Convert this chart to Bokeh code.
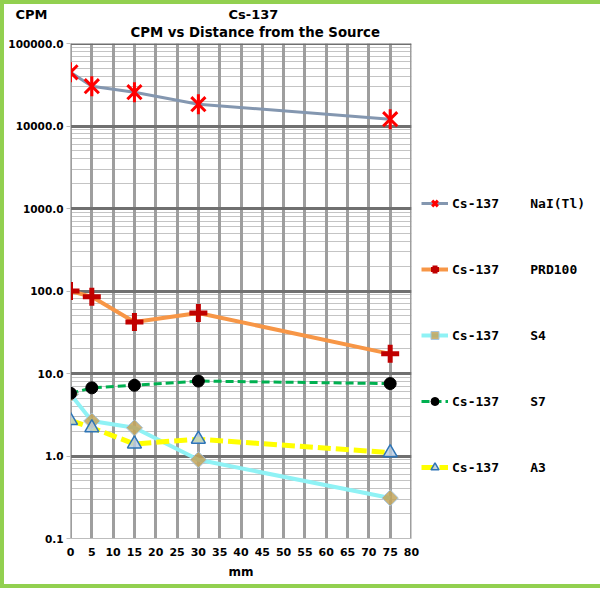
import numpy as np
from bokeh.plotting import figure
from bokeh.models import (FixedTicker, NumeralTickFormatter, Grid, Legend, LegendItem,
                          Title, Range1d)
from bokeh.embed import file_html
from bokeh.resources import INLINE

# ---- data ----
distance_mm = [0, 5, 15, 30, 75]
cpm_nai = [44700, 30400, 25700, 18400, 12100]
cpm_prd100 = [100, 85, 42, 54, 17.3]
cpm_s4 = [5.6, 2.65, 2.2, 0.9, 0.31]
cpm_s7 = [5.75, 6.7, 7.2, 8.1, 7.55]
cpm_a3 = [2.7, 2.2, 1.4, 1.6, 1.1]

NB = "\u00a0"
series_labels = [
    "Cs-137" + NB * 4 + "NaI(Tl)",
    "Cs-137" + NB * 4 + "PRD100",
    "Cs-137" + NB * 4 + "S4",
    "Cs-137" + NB * 4 + "S7",
    "Cs-137" + NB * 4 + "A3",
]
title_top = "Cs-137"
title_sub = "CPM vs Distance from the Source"
y_title = "CPM"
x_title = "mm"
x_ticks = list(range(0, 85, 5))
y_ticks = [0.1, 1, 10, 100, 1000, 10000, 100000]
y_major_grid = [1, 10, 100, 1000, 10000, 100000]
y_minor_grid = [m * 10.0 ** e for e in range(-1, 5) for m in range(2, 10)]

FONT = "DejaVu Sans"

p = figure(frame_width=341, frame_height=495,
           min_border_left=66, min_border_right=183,
           min_border_top=39, min_border_bottom=46,
           y_axis_type="log",
           x_range=Range1d(-0.001, 80.001), y_range=Range1d(0.1, 100000.01),
           output_backend="svg", toolbar_location=None)
p.outline_line_color = None
p.background_fill_color = "white"
p.border_fill_color = "white"
p.xgrid.visible = False
p.ygrid.visible = False
p.styles = {"border": "4px solid #92D050"}

# grids (order: minor horizontal, vertical, major horizontal)
g_minor = Grid(dimension=1, ticker=FixedTicker(ticks=[], minor_ticks=y_minor_grid),
               grid_line_color=None, minor_grid_line_color="#c4c4c4", minor_grid_line_width=1)
g_x = Grid(dimension=0, ticker=FixedTicker(ticks=x_ticks),
           grid_line_color="#9e9e9e", grid_line_width=3)
g_major = Grid(dimension=1, ticker=FixedTicker(ticks=y_major_grid),
               grid_line_color="#707070", grid_line_width=3)
for g in (g_minor, g_x, g_major):
    p.add_layout(g)

# axes
ya = p.yaxis[0]
ya.ticker = FixedTicker(ticks=y_ticks, minor_ticks=[])
ya.formatter = NumeralTickFormatter(format="0.0")
ya.axis_line_color = "#bdbdbd"
ya.major_tick_line_color = "#bdbdbd"
ya.major_tick_out = 4
ya.major_tick_in = 0
ya.minor_tick_line_color = None
ya.major_label_standoff = 3
ya.major_label_text_font = FONT
ya.major_label_text_font_style = "bold"
ya.major_label_text_font_size = "10.5px"
ya.major_label_text_color = "black"

xa = p.xaxis[0]
xa.ticker = FixedTicker(ticks=x_ticks, minor_ticks=[])
xa.axis_line_color = "#bdbdbd"
xa.major_tick_line_color = None
xa.minor_tick_line_color = None
xa.major_label_standoff = 3
xa.major_label_text_font = FONT
xa.major_label_text_font_style = "bold"
xa.major_label_text_font_size = "11px"
xa.major_label_text_color = "black"
xa.axis_label = x_title
xa.axis_label_standoff = 6
xa.axis_label_text_font = FONT
xa.axis_label_text_font_style = "bold"
xa.axis_label_text_font_size = "12px"
xa.axis_label_text_color = "black"

# lines
l_nai = p.line(distance_mm, cpm_nai, line_color="#8497B0", line_width=3)
l_prd = p.line(distance_mm, cpm_prd100, line_color="#F79646", line_width=4)
l_s4 = p.line(distance_mm, cpm_s4, line_color="#8FF2F5", line_width=4)
l_s7 = p.line(distance_mm, cpm_s7, line_color="#00B050", line_width=3, line_dash="8 4")
l_a3 = p.line(distance_mm, cpm_a3, line_color="#FFFF00", line_width=5, line_dash="13 5")

# markers
m_nai = p.scatter(distance_mm, cpm_nai, marker="x", size=20, line_color="#FF0000", line_width=3)
p.scatter(distance_mm, cpm_nai, marker="dash", angle=np.pi / 2, size=20,
          line_color="#FF0000", line_width=3)
m_prd = p.scatter(distance_mm, cpm_prd100, marker="cross", size=18,
                  line_color="#C00000", line_width=5)
m_s4 = p.scatter(distance_mm, cpm_s4, marker="square", angle=np.pi / 4, size=11.5,
                 fill_color="#C2A55C", fill_alpha=0.85, line_color="#A8C6DE", line_width=1)
m_s7 = p.scatter(distance_mm, cpm_s7, marker="circle", size=12,
                 fill_color="black", line_color="black")
m_a3 = p.scatter(distance_mm, cpm_a3, marker="triangle", size=14,
                 fill_color="#B8CCE4", fill_alpha=0.8, line_color="#2E75B6", line_width=1.5)

legend = Legend(items=[
    LegendItem(label=series_labels[0], renderers=[l_nai, m_nai]),
    LegendItem(label=series_labels[1], renderers=[l_prd, m_prd]),
    LegendItem(label=series_labels[2], renderers=[l_s4, m_s4]),
    LegendItem(label=series_labels[3], renderers=[l_s7, m_s7]),
    LegendItem(label=series_labels[4], renderers=[l_a3, m_a3]),
], location=(10, 61), padding=0, margin=8, spacing=46,
    glyph_width=27, glyph_height=20, label_height=20, label_standoff=4,
    label_text_font="DejaVu Sans Mono", label_text_font_style="bold",
    label_text_font_size="13px", label_text_color="black",
    border_line_color=None, background_fill_alpha=0)
p.add_layout(legend, "right")

# titles (nearest the frame first)
p.add_layout(Title(text=title_sub, align="left", offset=60, standoff=8,
                   text_font=FONT, text_font_style="bold", text_font_size="13.3px",
                   text_color="black"), "above")
p.add_layout(Title(text=y_title + NB * 40 + title_top, align="left", offset=-55, standoff=-7,
                   text_font=FONT, text_font_style="bold", text_font_size="13px",
                   text_color="black"), "above")

open("out.html", "w").write(file_html(p, INLINE))
